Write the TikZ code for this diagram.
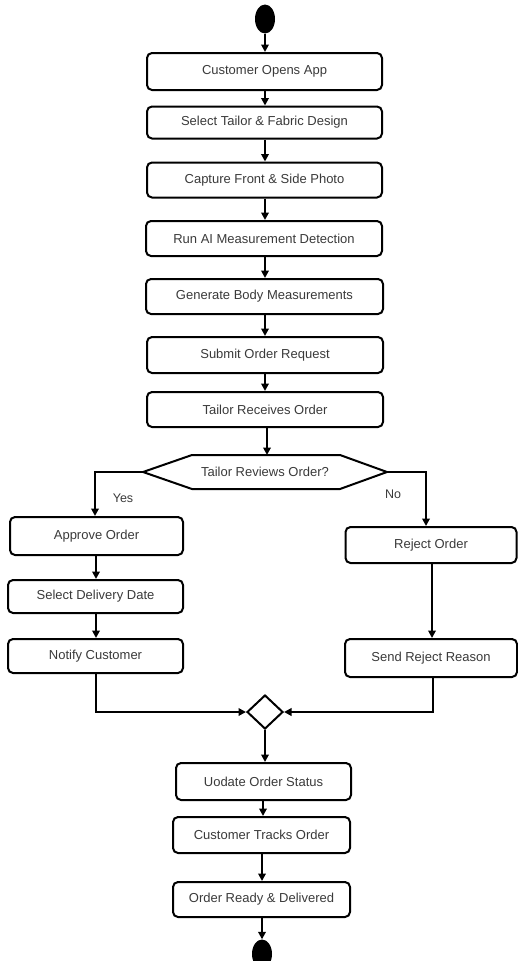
\documentclass[tikz,border=0pt]{standalone}
\usepackage{fontspec}
\setmainfont{Liberation Sans}
\usetikzlibrary{arrows.meta,shapes.geometric,shapes.misc}
\definecolor{txt}{HTML}{3A3A3A}
\begin{document}
\begin{tikzpicture}[x=1pt,y=-1pt,
  stepbox/.style={draw=black,line width=2pt,rounded corners=5pt,fill=white,
    inner sep=0pt,font=\fontsize{13}{15}\selectfont,text=txt},
  flow/.style={line width=2pt,-{Triangle[length=7.5pt,width=7.5pt]}},
  dot/.style={ellipse,fill=black,inner sep=0pt,minimum width=20pt,minimum height=29pt},
  lbl/.style={font=\fontsize{12.5}{14}\selectfont,text=txt,inner sep=0pt}]
\useasboundingbox (0,0) rectangle (518,961);
\fill[white] (0,0) rectangle (518,961);
\begin{scope}
\clip (0,0) rectangle (518,961);
\node[dot] (start) at (265,19) {};
\node[stepbox,minimum width=235pt,minimum height=37pt] (b1) at (264.5,71.5) {Customer Opens App};
\node[stepbox,minimum width=235pt,minimum height=32pt] (b2) at (264.5,122.5) {Select Tailor \& Fabric Design};
\node[stepbox,minimum width=235pt,minimum height=35pt] (b3) at (264.5,180) {Capture Front \& Side Photo};
\node[stepbox,minimum width=236pt,minimum height=35pt] (b4) at (264,238.5) {Run AI Measurement Detection};
\node[stepbox,minimum width=237pt,minimum height=35pt] (b5) at (264.5,296.5) {Generate Body Measurements};
\node[stepbox,minimum width=236pt,minimum height=36pt] (b6) at (265,355) {Submit Order Request};
\node[stepbox,minimum width=236pt,minimum height=35pt] (b7) at (265,409.5) {Tailor Receives Order};
% decision hexagon
\coordinate (dl) at (143,472);
\coordinate (dr) at (387,472);
\draw[line width=2pt,fill=white] (dl) -- (192,455) -- (340,455) -- (dr) -- (340,489) -- (192,489) -- cycle;
\node[lbl,font=\fontsize{13}{15}\selectfont] (dec) at (265,472) {Tailor Reviews Order?};
% left branch
\node[stepbox,minimum width=173pt,minimum height=38pt] (ap) at (96.5,536) {Approve Order};
\node[stepbox,minimum width=175pt,minimum height=33pt] (sd) at (95.5,596.5) {Select Delivery Date};
\node[stepbox,minimum width=175pt,minimum height=34pt] (nc) at (95.5,656) {Notify Customer};
% right branch
\node[stepbox,minimum width=171pt,minimum height=36pt] (rj) at (431,545) {Reject Order};
\node[stepbox,minimum width=172pt,minimum height=38pt] (sr) at (431,658) {Send Reject Reason};
% merge
\node[diamond,draw,line width=2pt,fill=white,minimum width=36pt,minimum height=34pt,inner sep=0pt] (mg) at (265,712) {};
% bottom
\node[stepbox,minimum width=175pt,minimum height=37pt] (us) at (263.5,781.5) {Uodate Order Status};
\node[stepbox,minimum width=177pt,minimum height=36pt] (ct) at (261.5,835) {Customer Tracks Order};
\node[stepbox,minimum width=177pt,minimum height=35pt] (od) at (261.5,899.5) {Order Ready \& Delivered};
\node[dot] (end) at (262,954) {};
% labels
\node[lbl] (yes) at (123,498) {Yes};
\node[lbl] (no) at (393,494) {No};
% connectors
\draw[flow] (start.south) -- (b1.north -| start.south);
\draw[flow] (b1.south -| 265,0) -- (b2.north -| 265,0);
\draw[flow] (b2.south -| 265,0) -- (b3.north -| 265,0);
\draw[flow] (b3.south -| 265,0) -- (b4.north -| 265,0);
\draw[flow] (b4.south -| 265,0) -- (b5.north -| 265,0);
\draw[flow] (b5.south -| 265,0) -- (b6.north -| 265,0);
\draw[flow] (b6.south -| 265,0) -- (b7.north -| 265,0);
\draw[flow] (b7.south -| 267,0) -- (267,455);
\draw[flow] (dl) -| (ap.north -| 95,0);
\draw[flow] (dr) -| (rj.north -| 426,0);
\draw[flow] (ap.south -| 96,0) -- (sd.north -| 96,0);
\draw[flow] (sd.south -| 96,0) -- (nc.north -| 96,0);
\draw[flow] (rj.south -| 432,0) -- (sr.north -| 432,0);
\draw[flow] (nc.south -| 96,0) |- (mg.west);
\draw[flow] (sr.south -| 433,0) |- (mg.east);
\draw[flow] (mg.south) -- (us.north -| mg.south);
\draw[flow] (us.south -| 263,0) -- (ct.north -| 263,0);
\draw[flow] (ct.south -| 262,0) -- (od.north -| 262,0);
\draw[flow] (od.south -| end.north) -- (end.north);
\end{scope}
\end{tikzpicture}
\end{document}
